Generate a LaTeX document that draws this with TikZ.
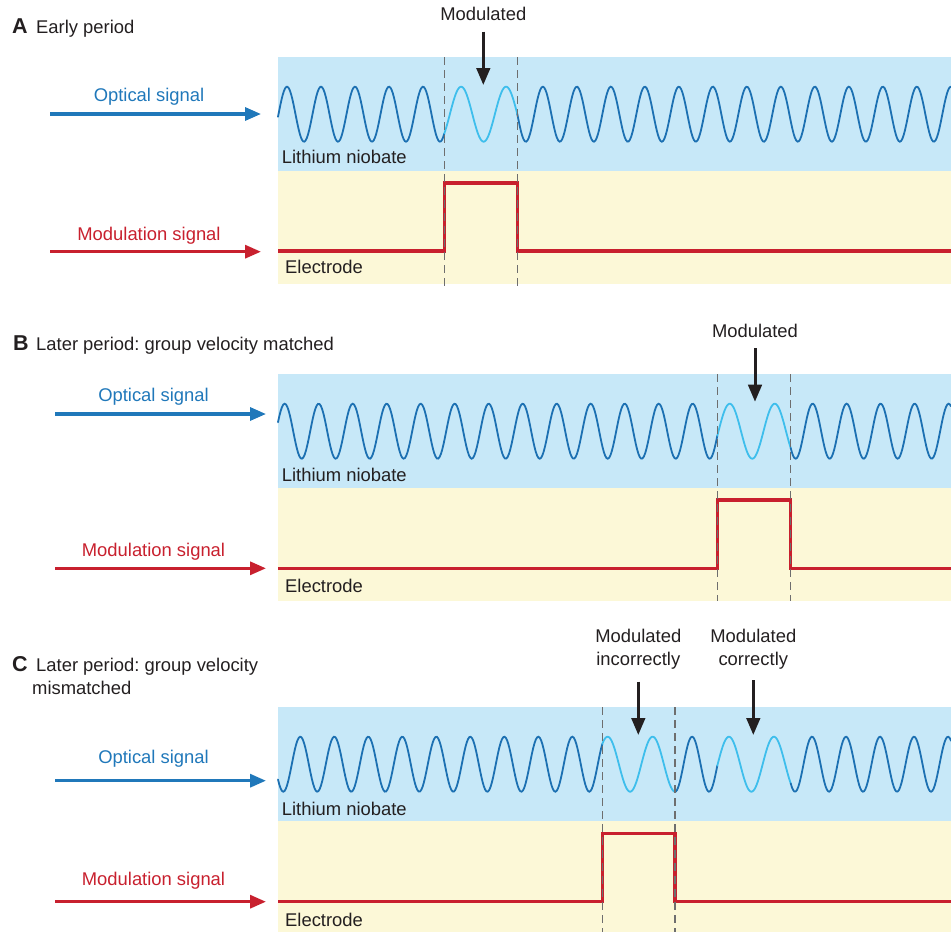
\documentclass[tikz,border=0pt]{standalone}
\usepackage{fontspec}
\setmainfont{Liberation Sans}
\usetikzlibrary{arrows.meta}
\frenchspacing
\definecolor{bluebg}{RGB}{199,232,248}
\definecolor{yellowbg}{RGB}{252,248,215}
\definecolor{wavedark}{RGB}{28,112,178}
\definecolor{wavelight}{RGB}{62,190,236}
\definecolor{optblue}{RGB}{32,120,186}
\definecolor{redc}{RGB}{200,32,46}
\definecolor{textc}{RGB}{35,31,32}
\definecolor{dashgray}{RGB}{110,110,110}
\tikzset{
  lbl/.style={inner sep=0pt, text=textc, font=\frenchspacing\fontsize{18.4}{22}\selectfont},
  ttl/.style={inner sep=0pt, text=textc, font=\fontsize{21.5}{22}\selectfont\bfseries},
  optarrow/.style={draw=optblue, line width=3.2pt, -{Triangle[length=16pt,width=13pt]}},
  modarrow/.style={draw=redc, line width=3.2pt, -{Triangle[length=16pt,width=13pt]}},
  blkarrow/.style={draw=textc, line width=3pt, -{Triangle[length=17pt,width=13.5pt]}},
  dwave/.style={draw=wavedark, line width=1.8pt, line cap=round},
  lwave/.style={draw=wavelight, line width=1.8pt, line cap=round},
  pulse/.style={draw=redc, line width=3.2pt, line join=miter},
  dashline/.style={draw=dashgray, line width=1.4pt, dash pattern=on 8pt off 5pt},
}
\begin{document}
\begin{tikzpicture}[x=1pt, y=-1pt]
\useasboundingbox (0,0) rectangle (951,932);

% ================= Panel A =================
\fill[bluebg] (278,57) rectangle (951,170.5);
\fill[yellowbg] (278,170.5) rectangle (951,284);
\draw[dwave] plot[domain=278:444.3, samples=140] (\x, {114.2-27.5*cos(360*(0.5+(\x-440)/34))});
\draw[lwave] plot[domain=444.3:517.3, samples=70] (\x, {114.2-27.5*cos(360*(0.6265+(\x-444.3)/45))});
\draw[dwave] plot[domain=517.3:951, samples=340] (\x, {114.2-27.5*cos(360*(2.2487+(\x-517.3)/34))});
\draw[pulse] (278,251) -- (444.3,251) -- (444.3,183) -- (517.3,183) -- (517.3,251) -- (951,251);
\draw[dashline] (444.3,57) -- (444.3,286);
\draw[dashline] (517.3,57) -- (517.3,286);
\node[ttl, anchor=base west] (tA) at (12,33.3) {A};
\node[lbl, anchor=base west] (tAtext) at (36,33.3) {Early period};
\node[lbl, anchor=base, text=optblue] (osA) at (149,101.7) {Optical signal};
\node[lbl, anchor=base, text=redc] (msA) at (149,240.7) {Modulation signal};
\coordinate (oA1) at (50,114); \coordinate (oA2) at (261,114);
\coordinate (mA1) at (50,251.7); \coordinate (mA2) at (261,251.7);
\draw[optarrow] (oA1) -- (oA2);
\draw[modarrow] (mA1) -- (mA2);
\node[lbl, anchor=base west] (lnA) at (281.7,163.3) {Lithium niobate};
\node[lbl, anchor=base west] (elA) at (285,273.3) {Electrode};
\node[lbl, anchor=base] (mdA) at (483.3,20.7) {Modulated};
\coordinate (kA1) at (483.3,31.5); \coordinate (kA2) at (483.3,85);
\draw[blkarrow] (kA1) -- (kA2);

% ================= Panel B =================
\fill[bluebg] (278,374) rectangle (951,487.5);
\fill[yellowbg] (278,487.5) rectangle (951,601);
\draw[dwave] plot[domain=278:717.3, samples=330] (\x, {431.2-27.5*cos(360*((\x-692.7)/34))});
\draw[lwave] plot[domain=717.3:790.7, samples=70] (\x, {431.2-27.5*cos(360*(0.7235+(\x-717.3)/45))});
\draw[dwave] plot[domain=790.7:951, samples=130] (\x, {431.2-27.5*cos(360*(2.3546+(\x-790.7)/34))});
\draw[pulse] (278,568.3) -- (717.3,568.3) -- (717.3,500) -- (790.7,500) -- (790.7,568.3) -- (951,568.3);
\draw[dashline] (717.3,374) -- (717.3,601);
\draw[dashline] (790.7,374) -- (790.7,601);
\node[ttl, anchor=base west] (tB) at (13,350.7) {B};
\node[lbl, anchor=base west] (tBtext) at (36,350.7) {Later period: group velocity matched};
\node[lbl, anchor=base, text=optblue] (osB) at (153.5,401.7) {Optical signal};
\node[lbl, anchor=base, text=redc] (msB) at (153.5,556) {Modulation signal};
\coordinate (oB1) at (55,414); \coordinate (oB2) at (266,414);
\coordinate (mB1) at (55,568.3); \coordinate (mB2) at (266,568.3);
\draw[optarrow] (oB1) -- (oB2);
\draw[modarrow] (mB1) -- (mB2);
\node[lbl, anchor=base west] (lnB) at (281.7,481) {Lithium niobate};
\node[lbl, anchor=base west] (elB) at (285,592.3) {Electrode};
\node[lbl, anchor=base] (mdB) at (755,337.3) {Modulated};
\coordinate (kB1) at (755,348); \coordinate (kB2) at (755,401.7);
\draw[blkarrow] (kB1) -- (kB2);

% ================= Panel C =================
\fill[bluebg] (278,707.3) rectangle (951,820.7);
\fill[yellowbg] (278,820.7) rectangle (951,932);
\draw[dwave] plot[domain=278:602.3, samples=250] (\x, {764.2-27.5*cos(360*(0.5+(\x-283.3)/34))});
\draw[lwave] plot[domain=602.3:675, samples=70] (\x, {764.2-27.5*cos(360*(9.882+(\x-602.3)/45))});
\draw[dwave] plot[domain=675:717.3, samples=45] (\x, {764.2-27.5*cos(360*(11.4976+(\x-675)/34))});
\draw[lwave] plot[domain=717.3:790.7, samples=70] (\x, {764.2-27.5*cos(360*(12.7417+(\x-717.3)/45))});
\draw[dwave] plot[domain=790.7:951, samples=130] (\x, {764.2-27.5*cos(360*(14.3728+(\x-790.7)/34))});
\draw[pulse] (278,901.7) -- (602.3,901.7) -- (602.3,833.3) -- (675,833.3) -- (675,901.7) -- (951,901.7);
\draw[dashline] (602.3,707.3) -- (602.3,932);
\draw[dashline] (675,707.3) -- (675,932);
\node[ttl, anchor=base west] (tC) at (12,671.7) {C};
\node[lbl, anchor=base west] (tCtext) at (36,671.7) {Later period: group velocity};
\node[lbl, anchor=base west] (tCtext2) at (32,694) {mismatched};
\node[lbl, anchor=base, text=optblue] (osC) at (153.5,763.3) {Optical signal};
\node[lbl, anchor=base, text=redc] (msC) at (153.5,885) {Modulation signal};
\coordinate (oC1) at (55,780.7); \coordinate (oC2) at (266,780.7);
\coordinate (mC1) at (55,901.7); \coordinate (mC2) at (266,901.7);
\draw[optarrow] (oC1) -- (oC2);
\draw[modarrow] (mC1) -- (mC2);
\node[lbl, anchor=base west] (lnC) at (281.7,815) {Lithium niobate};
\node[lbl, anchor=base west] (elC) at (285,926) {Electrode};
\node[lbl, anchor=base] (miC1) at (638.3,642.7) {Modulated};
\node[lbl, anchor=base] (miC2) at (638.3,665) {incorrectly};
\node[lbl, anchor=base] (mcC1) at (753.3,642.7) {Modulated};
\node[lbl, anchor=base] (mcC2) at (753.3,665) {correctly};
\coordinate (kC1) at (638.3,681.7); \coordinate (kC2) at (638.3,735);
\coordinate (kC3) at (753.3,680); \coordinate (kC4) at (753.3,735);
\draw[blkarrow] (kC1) -- (kC2);
\draw[blkarrow] (kC3) -- (kC4);
\end{tikzpicture}
\end{document}
